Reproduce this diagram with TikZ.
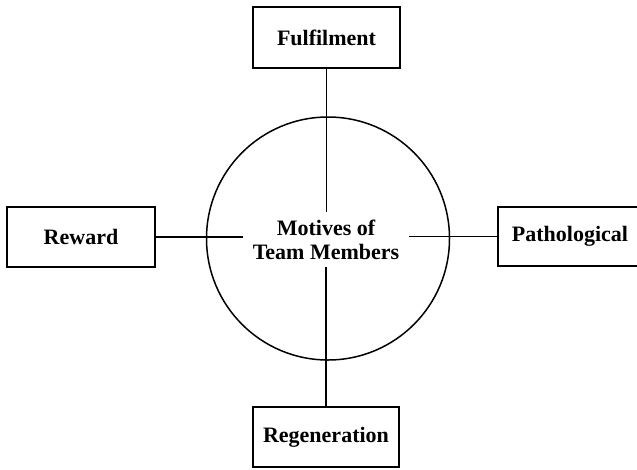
\documentclass[tikz,border=0pt]{standalone}
\usepackage{fontspec}
\setmainfont{Liberation Serif}
\usetikzlibrary{positioning}

\tikzset{
  motivebox/.style={draw,line width=1.5pt,inner sep=0pt,align=center,
    font=\fontsize{22}{24}\selectfont\bfseries},
  link/.style={line width=1.5pt}
}

\begin{document}
\begin{tikzpicture}[x=1pt,y=-1pt]
  \clip (0,0) rectangle (637,469);
  \node[circle,draw,line width=1.5pt,minimum size=243pt] (ring) at (328,238.5) {};
  \node[align=center,minimum width=165pt,minimum height=55pt,inner sep=0pt,
    font=\fontsize{22}{24}\selectfont\bfseries] (motives) at (326,239.5)
    {Motives of\\Team Members};
  \node[motivebox,minimum width=147pt,minimum height=61pt] (fulfil) at (326.5,37.5) {Fulfilment};
  \node[motivebox,minimum width=148pt,minimum height=60pt] (reward) at (81,237) {Reward};
  \node[motivebox,minimum width=144pt,minimum height=59pt] (patho) at (570,236.5) {Pathological};
  \node[motivebox,minimum width=146pt,minimum height=60pt] (regen) at (326,437) {Regeneration};
  \draw[link] (fulfil.south) -- (fulfil.south |- motives.north);
  \draw[link] (regen.north) -- (regen.north |- motives.south);
  \draw[link] (reward.east) -- (reward.east -| motives.west);
  \draw[link] (patho.west) -- (patho.west -| motives.east);
\end{tikzpicture}
\end{document}
